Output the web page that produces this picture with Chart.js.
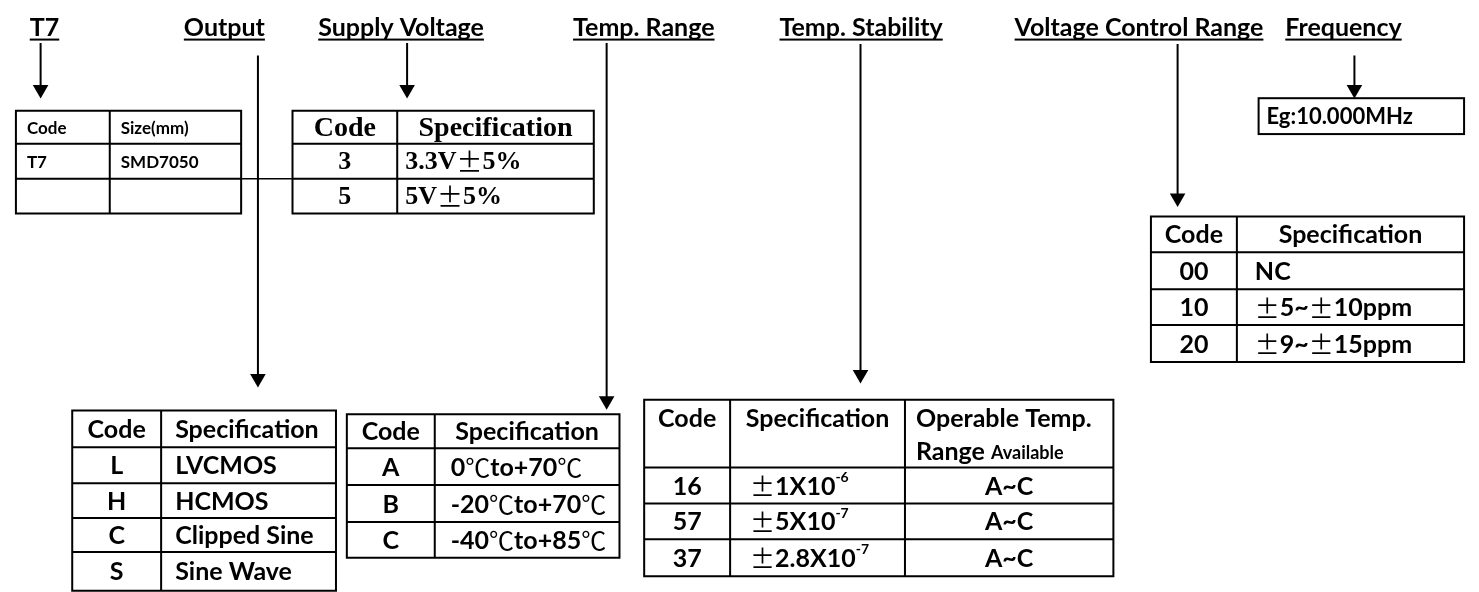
<!DOCTYPE html>
<html>
<head>
<meta charset="utf-8">
<script src="https://cdn.jsdelivr.net/npm/chart.js@4/dist/chart.umd.min.js"></script>
<style>
html, body { margin: 0; padding: 0; background: #fff; }
#wrap { width: 1479px; height: 592px; }
</style>
</head>
<body>
<div id="wrap"><canvas id="chart" width="1479" height="592"></canvas></div>
<script>
// part number fields
var headerLabels = ["T7", "Output", "Supply Voltage", "Temp. Range", "Temp. Stability", "Voltage Control Range", "Frequency"];

// table contents
var sizeCodes = ["Code", "T7", ""];
var sizeSpecs = ["Size(mm)", "SMD7050", ""];
var voltCodes = ["Code", "3", "5"];
var voltSpecs = ["Specification", "3.3V\u00b15%", "5V\u00b15%"];
var outputCodes = ["Code", "L", "H", "C", "S"];
var outputSpecs = ["Specification", "LVCMOS", "HCMOS", "Clipped Sine", "Sine Wave"];
var rangeCodes = ["Code", "A", "B", "C"];
var rangeSpecs = ["Specification", "0\u2103to+70\u2103", "-20\u2103to+70\u2103", "-40\u2103to+85\u2103"];
var stabCodes = ["Code", "16", "57", "37"];
var stabMantissa = ["Specification", "\u00b11X10", "\u00b15X10", "\u00b12.8X10"];
var stabExponent = ["", "-6", "-7", "-7"];
var stabTemps = ["Operable Temp.", "A~C", "A~C", "A~C"];
var vcrCodes = ["Code", "00", "10", "20"];
var vcrSpecs = ["Specification", "NC", "\u00b15~\u00b110ppm", "\u00b19~\u00b115ppm"];
var freqExample = "Eg:10.000MHz";

// layout (pixels in a 1479 x 592 frame)
var headerX = [21, 177, 313, 571, 780, 1018, 1292];
var headerBase = 28;
var connX = [32, 252, 403, 605, 862, 1183, 1362];
var connTop = [35, 48, 35, 35, 36, 36, 48];
var connTip = [92, 390, 92, 413, 386, 204, 92];
var arrowR = 9;

var SANS = 'Lato, "Noto Sans", sans-serif';
var CJK = '"Noto Sans CJK SC", sans-serif';

var tables = [
  { cols: [7, 102, 235], rows: [105, 139, 175, 211], data: [sizeCodes, sizeSpecs],
    size: 17, family: SANS, head: ['left', 'left'], body: ['left', 'left'], pad: 11 },
  { cols: [287, 393, 592], rows: [105, 139, 175, 211], data: [voltCodes, voltSpecs],
    size: 26, headSize: 28, family: '"Liberation Serif", serif', head: ['center', 'center'], body: ['center', 'left'], pad: 8 },
  { cols: [64, 154, 331], rows: [414, 452, 489, 525, 560, 600], data: [outputCodes, outputSpecs],
    size: 25, family: SANS, head: ['center', 'left'], body: ['center', 'left'], pad: 14 },
  { cols: [342, 431, 618], rows: [418, 453, 491, 529, 566], data: [rangeCodes, rangeSpecs],
    size: 25, family: SANS, head: ['center', 'center'], body: ['center', 'left'], pad: 16 },
  { cols: [643, 730, 907, 1118], rows: [403, 473, 510, 547, 585], data: [stabCodes, stabMantissa, stabTemps],
    size: 25, family: SANS, head: ['center', 'center', 'left'], body: ['center', 'left', 'center'], pad: 11,
    pads: [11, 20, 11], sup: stabExponent, twoLineHead: true },
  { cols: [1156, 1243, 1473], rows: [214, 251, 289, 326, 364], data: [vcrCodes, vcrSpecs],
    size: 25, family: SANS, head: ['center', 'center'], body: ['center', 'left'], pad: 18 }
];
var freqBox = { x0: 1265, x1: 1473, y0: 92, y1: 129, pad: 8, size: 22 };
var linkLine = { x0: 235, x1: 287, y: 175 };

// split a string into runs, wide symbols drawn from the CJK font
function toRuns(str, size, family) {
  var out = [], cur = null;
  for (var i = 0; i < str.length; i++) {
    var ch = str[i];
    var f = (ch === '\u00b1' || ch === '\u2103') ? size + 'px ' + CJK : 'bold ' + size + 'px ' + family;
    if (cur && cur.font === f) cur.t += ch;
    else { cur = { t: ch, font: f, dy: 0 }; out.push(cur); }
  }
  return out;
}

function drawRuns(ctx, runs, x, y, align, baseline) {
  var w = 0;
  runs.forEach(function (r) { ctx.font = r.font; r.w = ctx.measureText(r.t).width; w += r.w; });
  var sx = align === 'center' ? x - w / 2 : x;
  ctx.textAlign = 'left';
  ctx.textBaseline = baseline || 'middle';
  runs.forEach(function (r) {
    ctx.font = r.font;
    ctx.fillText(r.t, sx, y + r.dy);
    sx += r.w;
  });
  return w;
}

var diagramPlugin = {
  id: 'diagram',
  afterDatasetsDraw: function (chart) {
    var ctx = chart.ctx, xs = chart.scales.x, ys = chart.scales.y;
    var px = function (v) { return xs.getPixelForValue(v); };
    var py = function (v) { return ys.getPixelForValue(v); };
    ctx.save();
    ctx.fillStyle = '#000';
    ctx.strokeStyle = '#000';

    // underlined field headers
    headerLabels.forEach(function (lab, i) {
      var w = drawRuns(ctx, toRuns(lab, 25, SANS), px(headerX[i]), py(headerBase), 'left', 'alphabetic');
      ctx.fillRect(px(headerX[i]), py(headerBase + 2.5), w, 2);
    });

    // tables
    tables.forEach(function (t) {
      ctx.lineWidth = 2;
      ctx.beginPath();
      t.cols.forEach(function (c) { ctx.moveTo(px(c), py(t.rows[0])); ctx.lineTo(px(c), py(t.rows[t.rows.length - 1])); });
      t.rows.forEach(function (r) { ctx.moveTo(px(t.cols[0]) - 1, py(r)); ctx.lineTo(px(t.cols[t.cols.length - 1]) + 1, py(r)); });
      ctx.stroke();
      t.data.forEach(function (col, ci) {
        var x0 = px(t.cols[ci]), x1 = px(t.cols[ci + 1]);
        var pad = t.pads ? t.pads[ci] : t.pad;
        col.forEach(function (txt, ri) {
          var y0 = py(t.rows[ri]), y1 = py(t.rows[ri + 1]);
          var al = ri === 0 ? t.head[ci] : t.body[ci];
          var x = al === 'center' ? (x0 + x1) / 2 : x0 + pad;
          var yc = (y0 + y1) / 2 + 1;
          if (ri === 0 && t.twoLineHead) yc = y0 + 19;
          var size = (ri === 0 && t.headSize) ? t.headSize : t.size;
          var runs = toRuns(txt, size, t.family);
          if (t.sup && ci === 1 && t.sup[ri]) {
            runs.push({ t: t.sup[ri], font: 'bold 14px ' + t.family, dy: -9 });
          }
          drawRuns(ctx, runs, x, yc, al);
          if (ri === 0 && t.twoLineHead && ci === 2) {
            drawRuns(ctx, [{ t: 'Range ', font: 'bold ' + t.size + 'px ' + t.family, dy: 0 },
                           { t: 'Available', font: 'bold 18px ' + t.family, dy: 1 }],
                     x, y0 + 52, 'left');
          }
        });
      });
    });

    // frequency example box
    ctx.lineWidth = 2;
    ctx.strokeRect(px(freqBox.x0), py(freqBox.y0), px(freqBox.x1) - px(freqBox.x0), py(freqBox.y1) - py(freqBox.y0));
    drawRuns(ctx, toRuns(freqExample, freqBox.size, SANS), px(freqBox.x0 + freqBox.pad), py((freqBox.y0 + freqBox.y1) / 2 + 1), 'left');

    ctx.restore();
  }
};

// connector lines and arrow heads go through the chart's own datasets
var datasets = connX.map(function (x, i) {
  return {
    type: 'line',
    data: [{ x: x, y: connTop[i] }, { x: x, y: connTip[i] - arrowR }],
    borderColor: '#000', borderWidth: 2, pointRadius: 0, fill: false
  };
});
datasets.push({
  type: 'line',
  data: [{ x: linkLine.x0, y: linkLine.y }, { x: linkLine.x1, y: linkLine.y }],
  borderColor: '#000', borderWidth: 1.5, pointRadius: 0, fill: false
});
datasets.push({
  type: 'scatter',
  data: connX.map(function (x, i) { return { x: x, y: connTip[i] - arrowR }; }),
  pointStyle: 'triangle', rotation: 180, pointRadius: arrowR,
  backgroundColor: '#000', borderColor: '#000', borderWidth: 0
});

var ctx = document.getElementById('chart').getContext('2d');
new Chart(ctx, {
  type: 'scatter',
  data: { datasets: datasets },
  options: {
    responsive: false,
    animation: false,
    layout: { padding: 0 },
    plugins: { legend: { display: false }, tooltip: { enabled: false } },
    scales: {
      x: { type: 'linear', min: 0, max: 1479, display: false },
      y: { type: 'linear', min: 0, max: 592, reverse: true, display: false }
    }
  },
  plugins: [diagramPlugin]
});
</script>
</body>
</html>
